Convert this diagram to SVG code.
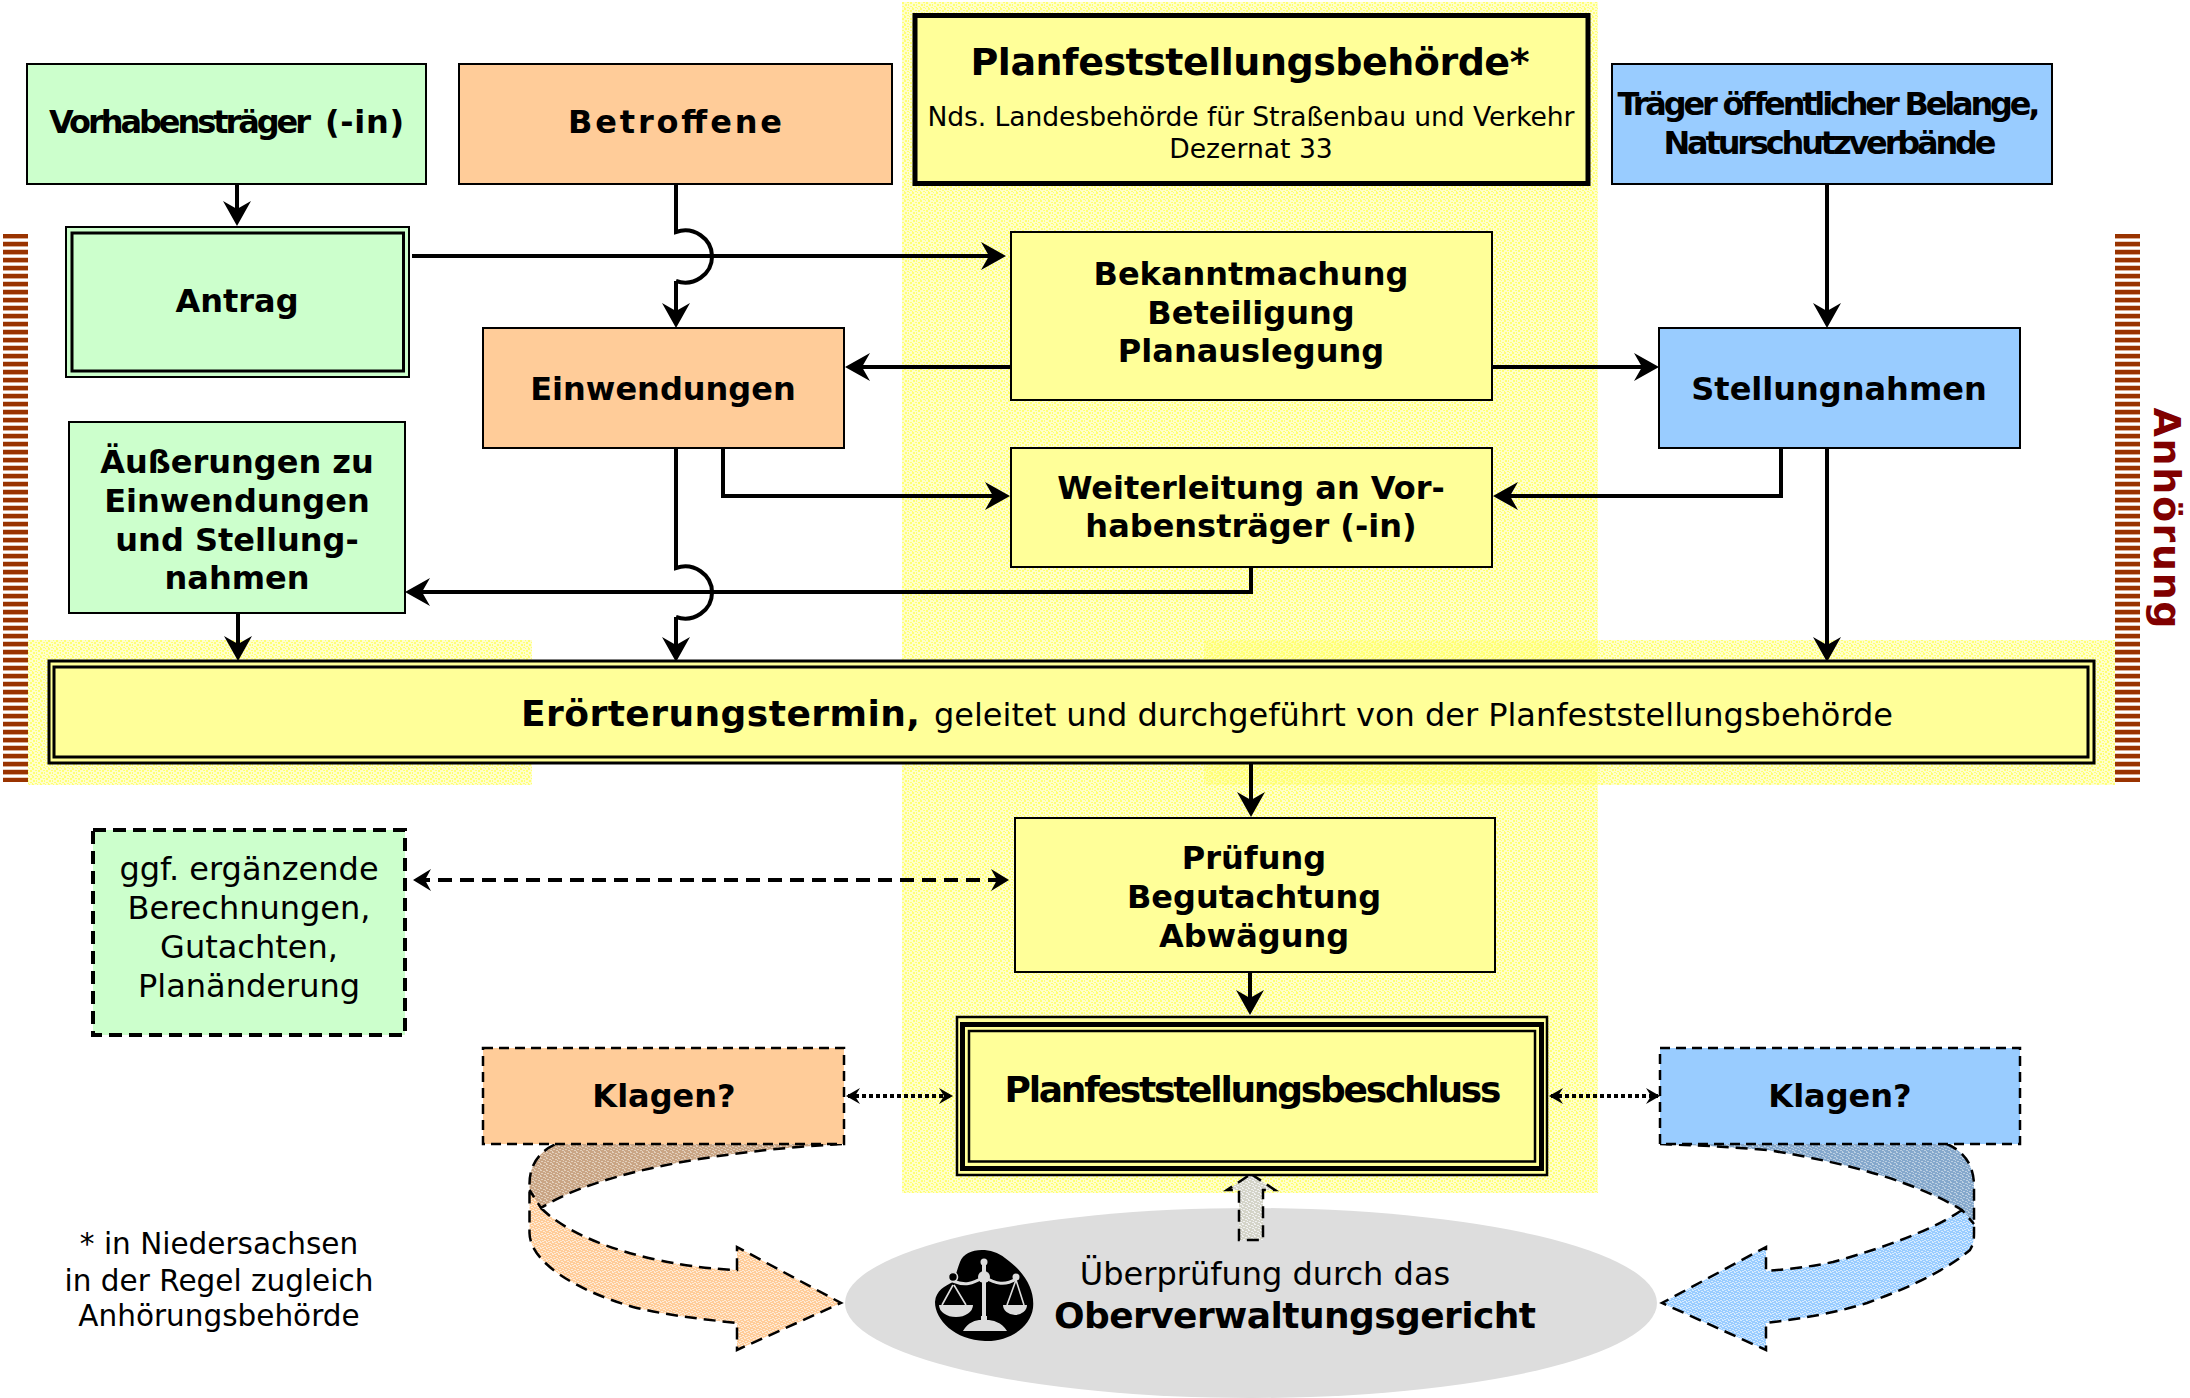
<svg xmlns="http://www.w3.org/2000/svg" width="2190" height="1398" viewBox="0 0 2190 1398">
<style>
text{font-family:"DejaVu Sans","Liberation Sans",sans-serif;fill:#000;text-anchor:middle}
.b{font-weight:bold;font-size:32px}
.r{font-size:32px}
.box{stroke:#000;stroke-width:2}
.g{fill:#ccffcc}.o{fill:#ffcc99}.y{fill:#ffff99}.l{fill:#99ccff}
.dash{stroke:#000;stroke-width:2.500;stroke-dasharray:10 6}
.c{fill:none;stroke:#000;stroke-width:4}
.ca{fill:none;stroke:#000;stroke-width:4;marker-end:url(#ah)}
.curve{stroke:#000;stroke-width:2.500;stroke-dasharray:12 7;fill:none}
.n{stroke:none}
.s{font-size:29.500px}
.d{font-size:26.600px}
</style>
<defs>
<marker id="ah" markerUnits="userSpaceOnUse" markerWidth="34" markerHeight="34" viewBox="-26 -17 34 34" refX="0" refY="0" orient="auto"><path d="M4 0L-21-14L-13 0L-21 14Z" fill="#000"/></marker>
<marker id="am" markerUnits="userSpaceOnUse" markerWidth="28" markerHeight="28" viewBox="-20 -14 28 28" refX="0" refY="0" orient="auto-start-reverse"><path d="M3 0L-15-11L-9 0L-15 11Z" fill="#000"/></marker>
<marker id="as" markerUnits="userSpaceOnUse" markerWidth="22" markerHeight="22" viewBox="-14 -11 22 22" refX="0" refY="0" orient="auto-start-reverse"><path d="M2 0L-12-8L-7 0L-12 8Z" fill="#000"/></marker>
<pattern id="py" width="8" height="8" patternUnits="userSpaceOnUse"><rect width="8" height="8" fill="#ffff99" fill-opacity=".5"/><path d="M0 0h2v2H0zM5 0h1v1H5zM3 2h2v1H3zM6 2h2v2H6zM1 4h2v2H1zM4 4h1v2H4zM6 6h2v1H6zM0 7h1v1H0zM3 7h2v1H3z" fill="#ffff66" fill-opacity=".85"/></pattern>
<pattern id="py2" href="#py" patternTransform="translate(3 5)"/>
<pattern id="po" width="6" height="6" patternUnits="userSpaceOnUse"><rect width="6" height="6" fill="#ffcc99"/><path d="M0 0h2v1H0zM3 1h2v1H3zM1 3h2v1H1zM4 4h2v1H4zM0 5h1v1H0zM5 2h1v1H5zM2 5h2v1H2z" fill="#fff" fill-opacity=".6"/></pattern>
<pattern id="pb" width="6" height="6" patternUnits="userSpaceOnUse"><rect width="6" height="6" fill="#99ccff"/><path d="M0 0h2v1H0zM3 1h2v1H3zM1 3h2v1H1zM4 4h2v1H4zM0 5h1v1H0zM5 2h1v1H5zM2 5h2v1H2z" fill="#fff" fill-opacity=".6"/></pattern>
<pattern id="pod" width="6" height="6" patternUnits="userSpaceOnUse"><rect width="6" height="6" fill="#c9a585"/><path d="M0 0h2v1H0zM3 1h2v1H3zM1 3h2v1H1zM4 4h2v1H4zM0 5h1v1H0zM5 2h1v1H5z" fill="#e3d0bc"/></pattern>
<pattern id="pbd" width="6" height="6" patternUnits="userSpaceOnUse"><rect width="6" height="6" fill="#85a8cc"/><path d="M0 0h2v1H0zM3 1h2v1H3zM1 3h2v1H1zM4 4h2v1H4zM0 5h1v1H0zM5 2h1v1H5z" fill="#bcd0e3"/></pattern>
<pattern id="pg" width="6" height="6" patternUnits="userSpaceOnUse"><rect width="6" height="6" fill="#d4d4c8"/><path d="M0 0h2v1H0zM3 1h2v1H3zM1 3h2v1H1zM4 4h2v1H4zM0 5h1v1H0zM5 2h1v1H5z" fill="#f2f2f2"/></pattern>
<pattern id="ph" width="10" height="8" patternUnits="userSpaceOnUse" y="234"><rect width="10" height="4" fill="#993300"/><rect y="4" width="10" height="1" fill="#d9a98f"/><rect y="7" width="10" height="1" fill="#e8cdbd"/></pattern>
</defs>

<g id="background">
<rect x="902" y="2" width="696" height="1191" fill="url(#py)"/>
<rect x="28" y="640" width="504" height="145" fill="url(#py)"/>
<rect x="1204" y="640" width="911" height="145" fill="url(#py2)"/>
<rect x="3" y="234" width="25" height="548" fill="url(#ph)"/>
<rect x="2115" y="234" width="25" height="548" fill="url(#ph)"/>
</g>

<g id="gericht">
<ellipse cx="1251" cy="1303" rx="406" ry="95" fill="#dddddd"/>
<g id="waage">
<path d="M960 1262C965 1248 990 1246 1005 1258C1025 1272 1035 1290 1033 1308C1030 1330 1005 1342 985 1341C955 1340 935 1320 935 1302C936 1290 945 1286 953 1282C956 1275 957 1270 960 1262Z" fill="#000"/>
<g fill="#ddd" class="n">
<rect x="982" y="1262" width="4" height="58"/>
<circle cx="984" cy="1262" r="3.500"/>
<circle cx="984" cy="1277" r="6"/>
<path d="M939 1305H973A17 12 0 0 1 939 1305ZM1003 1305H1027A12 10 0 0 1 1003 1305ZM963 1331C968 1322 976 1320 981 1320V1316H987V1320C992 1320 1002 1322 1007 1331Z"/>
<circle cx="1016" cy="1277" r="3.500"/>
</g>
<path d="M953 1281C965 1286 972 1284 984 1277C996 1284 1005 1286 1016 1279" fill="none" stroke="#ddd" stroke-width="3"/>
<path d="M953 1285L942 1305M954 1285L966 1305M1016 1280L1007 1305M1016 1280L1024 1305" fill="none" stroke="#ddd" stroke-width="1.600"/>
<circle cx="953" cy="1277" r="4.500" fill="#000" stroke="#ddd" stroke-width="1.600"/>
</g>
<text class="r" x="1265" y="1285">Überprüfung durch das</text>
<text class="b" style="font-size:36px" x="1295" y="1328" textLength="482">Oberverwaltungsgericht</text>
</g>

<g id="pfeil-oben">
<path class="curve" style="fill:url(#pg)" d="M1251 1174L1275 1190H1263V1240H1239V1190H1227Z"/>
</g>

<g id="pfeil-links">
<path fill="url(#pod)" d="M556 1144C538 1152 529 1166 529.500 1186V1200L541 1208C600 1170 730 1150 842 1144Z"/>
<path fill="url(#po)" d="M529.500 1190L541 1208C565 1232 610 1250 658 1260C690 1267 715 1269 737 1270V1247L841 1303L737 1350V1323C700 1319 665 1315 633 1307C575 1290 530 1262 529.500 1233Z"/>
<path class="curve" d="M842 1144C730 1150 600 1170 541 1208L529.500 1190M541 1208C565 1232 610 1250 658 1260C690 1267 715 1269 737 1270V1247L841 1303L737 1350V1323C700 1319 665 1315 633 1307C575 1290 530 1262 529.500 1233V1186C529 1166 538 1152 556 1144"/>
</g>
<g id="pfeil-rechts">
<path fill="url(#pbd)" d="M1947 1144C1965 1152 1974 1166 1974 1186V1224L1962 1210C1917 1183 1850 1163 1767 1150C1730 1147 1695 1145 1660 1144Z"/>
<path fill="url(#pb)" d="M1974 1224L1962 1210C1933 1230 1883 1248 1833 1262C1810 1267 1790 1269 1766 1271V1247L1662 1303L1766 1350V1323C1800 1319 1835 1313 1867 1303C1917 1285 1950 1267 1970 1250C1974 1243 1974 1238 1974 1233Z"/>
<path class="curve" d="M1660 1144C1695 1145 1730 1147 1767 1150C1850 1163 1917 1183 1962 1210L1974 1224M1962 1210C1933 1230 1883 1248 1833 1262C1810 1267 1790 1269 1766 1271V1247L1662 1303L1766 1350V1323C1800 1319 1835 1313 1867 1303C1917 1285 1950 1267 1970 1250C1974 1243 1974 1238 1974 1233V1186C1974 1166 1965 1152 1947 1144"/>
</g>

<g id="connectors">
<path class="ca" d="M237 184V222"/>
<path class="c" d="M676 184V232A27 26 0 1 1 676 281"/><path class="ca" d="M676 281V324"/>
<path class="ca" d="M412 256H1002"/>
<path class="ca" d="M1011 367H849"/>
<path class="ca" d="M1492 367H1655"/>
<path class="ca" d="M723 448V496H1006"/>
<path class="ca" d="M1781 448V496H1497"/>
<path class="ca" d="M1827 184V324"/>
<path class="ca" d="M1827 448V658"/>
<path class="ca" d="M1251 567V592H409"/>
<path class="c" d="M676 448V568A27 26 0 1 1 676 617"/><path class="ca" d="M676 617V658"/>
<path class="ca" d="M238 613V657"/>
<path class="ca" d="M1251 763V813"/>
<path class="ca" d="M1250 972V1011"/>
<path d="M416 880H1006" fill="none" stroke="#000" stroke-width="4" stroke-dasharray="14 8" marker-start="url(#am)" marker-end="url(#am)"/>
<path d="M848 1096H951" fill="none" stroke="#000" stroke-width="4" stroke-dasharray="4 3" marker-start="url(#as)" marker-end="url(#as)"/>
<path d="M1551 1096H1658" fill="none" stroke="#000" stroke-width="4" stroke-dasharray="4 3" marker-start="url(#as)" marker-end="url(#as)"/>
</g>

<g id="vorhabentraeger"><rect class="box g" x="27" y="64" width="399" height="120"/><text class="b" style="text-anchor:start" x="49" y="133"><tspan textLength="262">Vorhabensträger</tspan> <tspan x="325" textLength="79">(-in)</tspan></text></g>
<g id="betroffene"><rect class="box o" x="459" y="64" width="433" height="120"/><text class="b" x="675" y="133" textLength="214">Betroffene</text></g>
<g id="behoerde"><rect class="y" x="915" y="15.500" width="673" height="168" stroke="#000" stroke-width="5"/><text class="b" style="font-size:38px" x="1250" y="75" textLength="559">Planfeststellungsbehörde*</text><text class="d" x="1251" y="126" textLength="647">Nds. Landesbehörde für Straßenbau und Verkehr</text><text class="d" x="1251" y="158">Dezernat 33</text></g>
<g id="traeger"><rect class="box l" x="1612" y="64" width="440" height="120"/><text class="b" x="1829" y="115" textLength="423">Träger öffentlicher Belange,</text><text class="b" x="1830" y="154" textLength="333">Naturschutzverbände</text></g>
<g id="antrag"><rect class="box g" x="66" y="227" width="343" height="150"/><rect class="g" x="72" y="233" width="331.500" height="138" stroke="#000" stroke-width="3"/><text class="b" x="237" y="312">Antrag</text></g>
<g id="bekanntmachung"><rect class="box y" x="1011" y="232" width="481" height="168"/><text class="b" x="1251" y="285">Bekanntmachung</text><text class="b" x="1251" y="324">Beteiligung</text><text class="b" x="1251" y="362">Planauslegung</text></g>
<g id="einwendungen"><rect class="box o" x="483" y="328" width="361" height="120"/><text class="b" x="663" y="400">Einwendungen</text></g>
<g id="stellungnahmen"><rect class="box l" x="1659" y="328" width="361" height="120"/><text class="b" x="1839" y="400">Stellungnahmen</text></g>
<g id="aeusserungen"><rect class="box g" x="69" y="422" width="336" height="191"/><text class="b" x="237" y="473">Äußerungen zu</text><text class="b" x="237" y="512">Einwendungen</text><text class="b" x="237" y="551">und Stellung-</text><text class="b" x="237" y="589">nahmen</text></g>
<g id="weiterleitung"><rect class="box y" x="1011" y="448" width="481" height="119"/><text class="b" x="1251" y="499">Weiterleitung an Vor-</text><text class="b" x="1251" y="537">habensträger (-in)</text></g>
<g id="eroerterung"><rect class="y" x="49" y="661" width="2045" height="102" stroke="#000" stroke-width="3"/><rect class="y" x="54" y="667" width="2034" height="90" stroke="#000" stroke-width="3"/><text class="b" style="font-size:36px;text-anchor:start" x="521" y="726" textLength="399">Erörterungstermin,</text><text class="r" style="text-anchor:start" x="934" y="726" textLength="959">geleitet und durchgeführt von der Planfeststellungsbehörde</text></g>
<g id="pruefung"><rect class="box y" x="1015" y="818" width="480" height="154"/><text class="b" x="1254" y="869">Prüfung</text><text class="b" x="1254" y="908">Begutachtung</text><text class="b" x="1254" y="947">Abwägung</text></g>
<g id="ergaenzung"><rect class="g" x="93" y="830" width="312" height="205" stroke="#000" stroke-width="4" stroke-dasharray="13 7"/><text class="r" x="249" y="880">ggf. ergänzende</text><text class="r" x="249" y="919">Berechnungen,</text><text class="r" x="249" y="958">Gutachten,</text><text class="r" x="249" y="997">Planänderung</text></g>
<g id="beschluss"><rect class="y" x="957" y="1017" width="590" height="158" stroke="#000" stroke-width="2.500"/><rect class="y" x="962.500" y="1024.500" width="579" height="144" stroke="#000" stroke-width="5"/><rect class="y" x="969" y="1031" width="566" height="130.500" stroke="#000" stroke-width="2.500"/><text class="b" style="font-size:36px" x="1253" y="1102" textLength="497">Planfeststellungsbeschluss</text></g>
<g id="klagen-links"><rect class="dash o" x="483" y="1048" width="361" height="96"/><text class="b" x="664" y="1107">Klagen?</text></g>
<g id="klagen-rechts"><rect class="dash l" x="1660" y="1048" width="360" height="96"/><text class="b" x="1840" y="1107">Klagen?</text></g>
<g id="fussnote"><text class="s" x="219" y="1254">* in Niedersachsen</text><text class="s" x="219" y="1291">in der Regel zugleich</text><text class="s" x="219" y="1326">Anhörungsbehörde</text></g>
<g id="anhoerung"><text class="b" style="fill:#800000;font-size:38px" transform="translate(2154 518) rotate(90)" textLength="221">Anhörung</text></g>
</svg>
